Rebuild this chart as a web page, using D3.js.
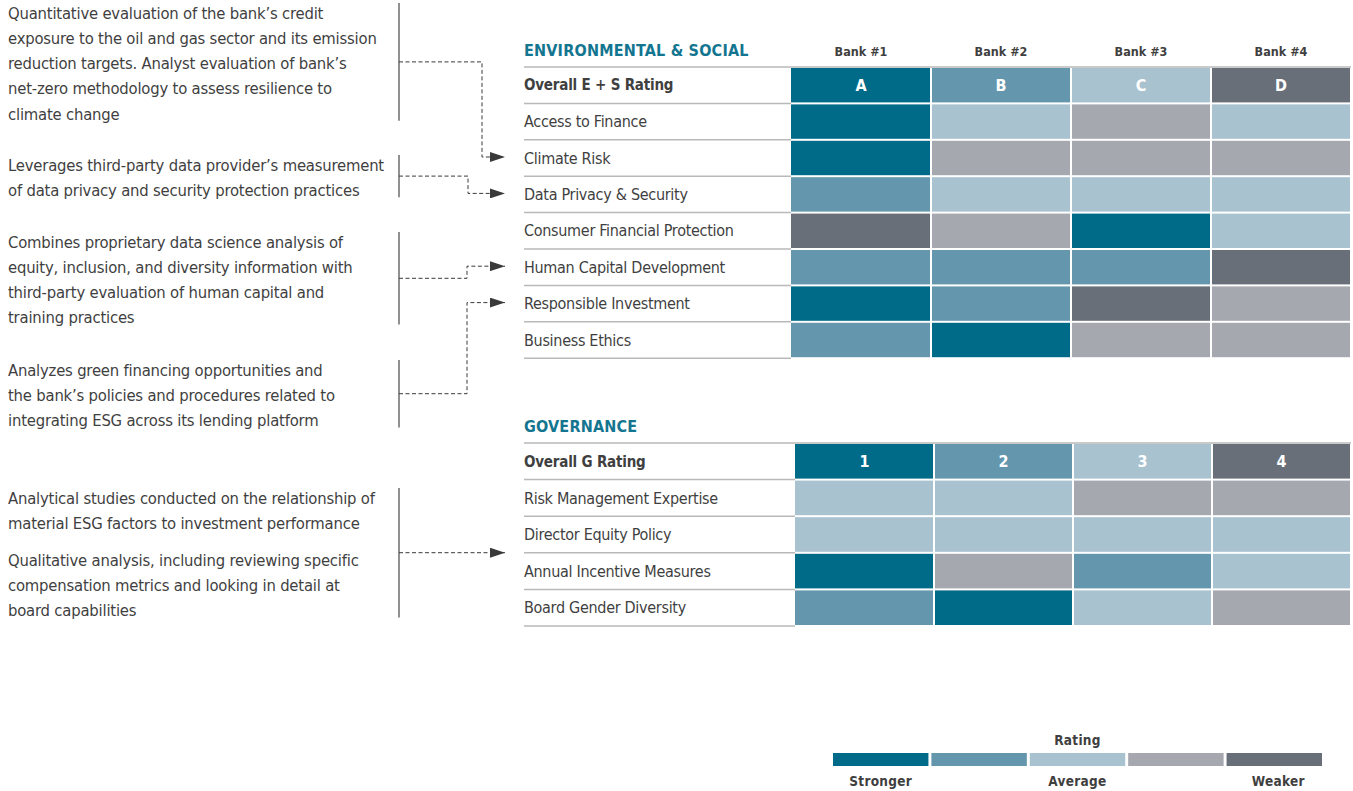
<!DOCTYPE html>
<html>
<head>
<meta charset="utf-8">
<script src="https://cdn.jsdelivr.net/npm/d3@7"></script>
<style>
  body { margin: 0; background: #fff; }
  svg text { font-family: "Liberation Sans Narrow", "DejaVu Sans Condensed", sans-serif; }
</style>
</head>
<body>
<div id="chart"></div>
<script>
// Banks and rating levels (1 = stronger ... 5 = weaker)
const banks = ['Bank #1', 'Bank #2', 'Bank #3', 'Bank #4'];
const ratingLevels = [1, 2, 3, 4, 5];
const ratingColors = ['#006b88', '#6497ad', '#a9c2cf', '#a6a8af', '#696f79'];
const legendLabels = ['Stronger', '', 'Average', '', 'Weaker'];

// Environmental & Social
const esRows = [
  'Overall E + S Rating',
  'Access to Finance',
  'Climate Risk',
  'Data Privacy & Security',
  'Consumer Financial Protection',
  'Human Capital Development',
  'Responsible Investment',
  'Business Ethics',
];
const esRatings = [
  [1, 2, 3, 5],
  [1, 3, 4, 3],
  [1, 4, 4, 4],
  [2, 3, 3, 3],
  [5, 4, 1, 3],
  [2, 2, 2, 5],
  [1, 2, 5, 4],
  [2, 1, 4, 4],
];
const esOverallLabels = ['A', 'B', 'C', 'D'];

// Governance
const govRows = [
  'Overall G Rating',
  'Risk Management Expertise',
  'Director Equity Policy',
  'Annual Incentive Measures',
  'Board Gender Diversity',
];
const govRatings = [
  [1, 2, 3, 5],
  [3, 3, 4, 4],
  [3, 3, 3, 3],
  [1, 4, 2, 3],
  [2, 1, 3, 4],
];
const govOverallLabels = ['1', '2', '3', '4'];

// Left-hand notes
const notes = [
  ['Quantitative evaluation of the bank\u2019s credit',
   'exposure to the oil and gas sector and its emission',
   'reduction targets. Analyst evaluation of bank\u2019s',
   'net-zero methodology to assess resilience to',
   'climate change'],
  ['Leverages third-party data provider\u2019s measurement',
   'of data privacy and security protection practices'],
  ['Combines proprietary data science analysis of',
   'equity, inclusion, and diversity information with',
   'third-party evaluation of human capital and',
   'training practices'],
  ['Analyzes green financing opportunities and',
   'the bank\u2019s policies and procedures related to',
   'integrating ESG across its lending platform'],
  ['Analytical studies conducted on the relationship of',
   'material ESG factors to investment performance'],
  ['Qualitative analysis, including reviewing specific',
   'compensation metrics and looking in detail at',
   'board capabilities'],
];
// which notes share a bracket, and the row each bracket points to
const noteGroups = [[0], [1], [2], [3], [4, 5]];
const noteTargets = ['Climate Risk', 'Data Privacy & Security', 'Human Capital Development', 'Responsible Investment', null];

const W = 1353, H = 791;
const TEAL = '#13758f';
const TEXT = '#3f3f3f';

const svg = d3.select('#chart').append('svg')
  .attr('width', W).attr('height', H);

const color = d3.scaleOrdinal().domain(ratingLevels).range(ratingColors);

svg.append('defs').append('marker')
  .attr('id', 'arrow')
  .attr('viewBox', '0 0 15 10')
  .attr('refX', 15).attr('refY', 5)
  .attr('markerWidth', 15).attr('markerHeight', 10)
  .attr('markerUnits', 'userSpaceOnUse')
  .attr('orient', 'auto')
  .append('path').attr('d', 'M0,0L15,5L0,10Z').attr('fill', '#3a3a3a');

// draws one rating table, returns its row scale
function drawTable(cfg) {
  const g = svg.append('g');
  const x = d3.scaleBand().domain(banks).range([cfg.colStart, cfg.right]);
  const y = d3.scaleBand().domain(cfg.rows).range([cfg.top, cfg.top + cfg.rowH * cfg.rows.length]);

  g.append('text')
    .attr('x', cfg.left).attr('y', cfg.top - 11)
    .attr('fill', TEAL).attr('font-weight', 'bold')
    .attr('font-size', 16).attr('letter-spacing', 0.2)
    .text(cfg.title);

  if (cfg.showBanks) {
    g.selectAll('.bank').data(banks).join('text')
      .attr('x', d => x(d) + x.bandwidth() / 2).attr('y', cfg.top - 11)
      .attr('text-anchor', 'middle').attr('font-weight', 'bold')
      .attr('font-size', 12.5).attr('fill', TEXT)
      .text(d => d);
  }

  // top rule across full width
  g.append('line')
    .attr('x1', cfg.left).attr('x2', cfg.right)
    .attr('y1', cfg.top).attr('y2', cfg.top)
    .attr('stroke', '#b9b9b9').attr('stroke-width', 1.5);

  // rules under each row in label column
  g.selectAll('.rule').data(cfg.rows).join('line')
    .attr('x1', cfg.left).attr('x2', cfg.colStart)
    .attr('y1', d => y(d) + y.bandwidth()).attr('y2', d => y(d) + y.bandwidth())
    .attr('stroke', '#b9b9b9').attr('stroke-width', 1.5);

  g.selectAll('.label').data(cfg.rows).join('text')
    .attr('x', cfg.left).attr('y', d => y(d) + y.bandwidth() / 2)
    .attr('dy', '0.35em')
    .attr('font-size', (d, i) => i === 0 ? 15 : 16)
    .attr('letter-spacing', (d, i) => i === 0 ? -0.2 : -0.3)
    .attr('fill', TEXT)
    .attr('font-weight', (d, i) => i === 0 ? 'bold' : 'normal')
    .text(d => d);

  const cells = [];
  cfg.ratings.forEach((r, i) => r.forEach((v, j) => cells.push({ row: cfg.rows[i], bank: banks[j], v, i, j })));

  g.selectAll('.cell').data(cells).join('rect')
    .attr('x', d => x(d.bank) + (d.j === 0 ? 0 : 1))
    .attr('y', d => y(d.row) + 1)
    .attr('width', d => x.bandwidth() - (d.j === 0 ? 1 : 2))
    .attr('height', y.bandwidth() - 2)
    .attr('fill', d => color(d.v));

  g.selectAll('.grade').data(cfg.overall).join('text')
    .attr('x', (d, j) => x(banks[j]) + x.bandwidth() / 2)
    .attr('y', y(cfg.rows[0]) + y.bandwidth() / 2)
    .attr('dy', '0.36em').attr('text-anchor', 'middle')
    .attr('font-weight', 'bold').attr('font-size', 16)
    .attr('fill', '#fff')
    .text(d => d);

  return y;
}

const yES = drawTable({
  title: 'ENVIRONMENTAL & SOCIAL', rows: esRows, ratings: esRatings, overall: esOverallLabels,
  left: 524, colStart: 791, right: 1351, top: 67, rowH: 36.4, showBanks: true,
});
const yGov = drawTable({
  title: 'GOVERNANCE', rows: govRows, ratings: govRatings, overall: govOverallLabels,
  left: 524, colStart: 795, right: 1351, top: 443, rowH: 36.6, showBanks: false,
});

// notes on the left
const noteTops = [13, 165, 242, 370, 498, 560];
const lineH = 25.2;
const notesG = svg.append('g');
notes.forEach((lines, k) => {
  notesG.append('text')
    .attr('font-size', 16.5).attr('letter-spacing', -0.2).attr('fill', TEXT)
    .selectAll('tspan').data(lines).join('tspan')
    .attr('x', 8).attr('y', (d, i) => noteTops[k] + i * lineH)
    .attr('dy', '0.35em')
    .text(d => d);
});

// brackets and dashed connectors
const barX = 399;
const elbowX = [482, 468, 467, 467, null];
noteGroups.forEach((grp, gi) => {
  const first = grp[0], last = grp[grp.length - 1];
  const y0 = noteTops[first] - 10;
  const y1 = noteTops[last] + (notes[last].length - 1) * lineH + 7;
  svg.append('line')
    .attr('x1', barX).attr('x2', barX).attr('y1', y0).attr('y2', y1)
    .attr('stroke', '#555').attr('stroke-width', 1.3);

  const ym = (y0 + y1) / 2;
  let ty;
  if (noteTargets[gi]) ty = yES(noteTargets[gi]) + yES.bandwidth() / 2 - 1;
  else ty = ym;
  const pts = elbowX[gi] == null
    ? [[barX, ym], [505, ty]]
    : [[barX, ym], [elbowX[gi], ym], [elbowX[gi], ty], [505, ty]];
  svg.append('path')
    .attr('d', d3.line()(pts))
    .attr('fill', 'none').attr('stroke', '#3a3a3a')
    .attr('stroke-width', 1).attr('stroke-dasharray', '4,2.5')
    .attr('marker-end', 'url(#arrow)');
});

// legend
const lx = d3.scaleBand().domain(ratingLevels).range([833, 1322]).paddingInner(0.03);
const legend = svg.append('g');
legend.append('text')
  .attr('x', (833 + 1322) / 2).attr('y', 745)
  .attr('text-anchor', 'middle').attr('font-weight', 'bold')
  .attr('font-size', 13.5).attr('fill', TEXT).attr('letter-spacing', 0.3)
  .text('Rating');
legend.selectAll('rect').data(ratingLevels).join('rect')
  .attr('x', d => lx(d)).attr('y', 753)
  .attr('width', lx.bandwidth()).attr('height', 13)
  .attr('fill', d => color(d));
legend.selectAll('.ll').data(ratingLevels).join('text')
  .attr('x', d => lx(d) + lx.bandwidth() / 2 + (d === 5 ? 4 : 0)).attr('y', 786)
  .attr('text-anchor', 'middle').attr('font-weight', 'bold')
  .attr('font-size', 13.5).attr('fill', TEXT).attr('letter-spacing', 0.3)
  .text((d, i) => legendLabels[i]);
</script>
</body>
</html>
